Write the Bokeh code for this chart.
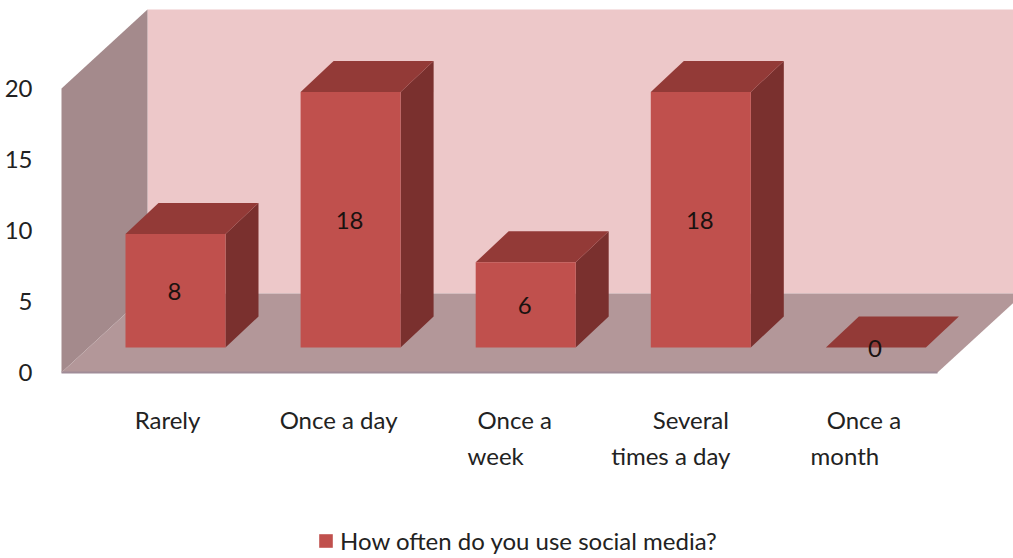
from bokeh.embed import file_html
from bokeh.resources import INLINE
from bokeh.plotting import figure
from bokeh.models import ColumnDataSource, FixedTicker, Legend, LegendItem, Range1d
from bokeh.core.properties import value

# Survey responses
categories = ["Rarely", "Once a day", "Once a week", "Several times a day", "Once a month"]
counts = [8, 18, 6, 18, 0]
y_ticks = [0, 5, 10, 15, 20]
series_name = "How often do you use social media?"

# Wrapped category labels: (category index, text, x shift px, line number)
label_lines = [
    (0, "Rarely", -8, 0),
    (1, "Once a day", -12, 0),
    (2, "Once a", -11, 0), (2, "week", -30, 1),
    (3, "Several", -10, 0), (3, "times a day", -30, 1),
    (4, "Once a", -12, 0), (4, "month", -31, 1),
]

FONT = "Lato"
WIDTH, HEIGHT = 1013, 558

# Screen scale of the two axes
PX_PER_UNIT = 14.2
PX_PER_CAT = 175.1
ZERO_PX_Y = 372
FIRST_CAT_PX_X = 175
FRAME_LEFT = 44

# Oblique projection: depth of the box and of a single bar, in axis units
BOX_DX, BOX_DY = 86 / PX_PER_CAT, 79 / PX_PER_UNIT
BAR_DX, BAR_DY = 33 / PX_PER_CAT, 31 / PX_PER_UNIT
BAR_HALF = 50 / PX_PER_CAT
BAR_LIFT = 25 / PX_PER_UNIT
WALL_X = (61 - FIRST_CAT_PX_X) / PX_PER_CAT
FLOOR_X = (937 - FIRST_CAT_PX_X) / PX_PER_CAT
FAR_X = (1040 - FIRST_CAT_PX_X) / PX_PER_CAT

p = figure(
    width=WIDTH, height=HEIGHT, output_backend="svg", toolbar_location=None,
    x_range=Range1d((FRAME_LEFT - FIRST_CAT_PX_X) / PX_PER_CAT, (WIDTH - FIRST_CAT_PX_X) / PX_PER_CAT),
    y_range=Range1d((ZERO_PX_Y - HEIGHT) / PX_PER_UNIT, ZERO_PX_Y / PX_PER_UNIT),
    min_border_left=FRAME_LEFT, min_border_right=0, min_border_top=0, min_border_bottom=0,
    background_fill_color="white", border_fill_color="white", outline_line_color=None,
)
p.grid.visible = False
p.xaxis.visible = False

ax = p.yaxis[0]
ax.ticker = FixedTicker(ticks=y_ticks)
ax.axis_line_color = None
ax.major_tick_line_color = None
ax.minor_tick_line_color = None
ax.major_label_standoff = 6
ax.major_label_text_font = FONT
ax.major_label_text_font_size = "24px"
ax.major_label_text_color = "#222222"

# Back wall, side wall and floor of the chart box
p.patch([WALL_X + BOX_DX, FAR_X, FAR_X, WALL_X + BOX_DX],
        [BOX_DY, BOX_DY, 20 + BOX_DY, 20 + BOX_DY],
        fill_color="#EDC8C9", line_color=None)
p.patch([WALL_X, WALL_X + BOX_DX, WALL_X + BOX_DX, WALL_X],
        [0, BOX_DY, 20 + BOX_DY, 20],
        fill_color="#A48A8C", line_color=None)
p.patch([WALL_X, FLOOR_X, FLOOR_X + BOX_DX, WALL_X + BOX_DX],
        [0, 0, BOX_DY, BOX_DY],
        fill_color="#B39799", line_color=None)
p.line([WALL_X, FLOOR_X], [0, 0], line_color="#A08C98", line_width=2)

# Three faces of each bar, all derived from the counts
idx = list(range(len(counts)))
tops = [BAR_LIFT + c for c in counts]
sides_x = [[i + BAR_HALF, i + BAR_HALF + BAR_DX, i + BAR_HALF + BAR_DX, i + BAR_HALF] for i in idx]
sides_y = [[BAR_LIFT, BAR_LIFT + BAR_DY, t + BAR_DY, t] for t in tops]
lids_x = [[i - BAR_HALF, i + BAR_HALF, i + BAR_HALF + BAR_DX, i - BAR_HALF + BAR_DX] for i in idx]
lids_y = [[t, t, t + BAR_DY, t + BAR_DY] for t in tops]

p.patches(sides_x, sides_y, fill_color="#7A302E", line_color=None)
p.patches(lids_x, lids_y, fill_color="#933A37", line_color=None)
front = p.quad(left=[i - BAR_HALF for i in idx], right=[i + BAR_HALF for i in idx],
               bottom=BAR_LIFT, top=tops, fill_color="#C0504D", line_color=None)

# Value labels centred on each front face
p.text(x=idx, y=[BAR_LIFT + c / 2 for c in counts], text=[str(c) for c in counts],
       x_offset=-1, y_offset=1, text_align="center", text_baseline="middle",
       text_font=value(FONT), text_font_size="24px", text_color="#1A1210")

# Category labels below the floor
lines = ColumnDataSource(dict(
    x=[r[0] for r in label_lines],
    y=[0] * len(label_lines),
    text=[r[1] for r in label_lines],
    xo=[r[2] for r in label_lines],
    yo=[47 + 36 * r[3] for r in label_lines],
))
p.text(x="x", y="y", text="text", x_offset="xo", y_offset="yo", source=lines,
       text_align="center", text_baseline="middle",
       text_font=value(FONT), text_font_size="24px", text_color="#222222")

legend = Legend(
    items=[LegendItem(label=series_name, renderers=[front])],
    location=(273, 3), orientation="horizontal",
    background_fill_alpha=0, border_line_color=None,
    glyph_width=17, glyph_height=17, label_standoff=6,
    label_text_font=FONT, label_text_font_size="24px", label_text_color="#222222",
    padding=4, margin=0,
)
p.add_layout(legend, "center")

open("out.html", "w").write(file_html(p, INLINE))
